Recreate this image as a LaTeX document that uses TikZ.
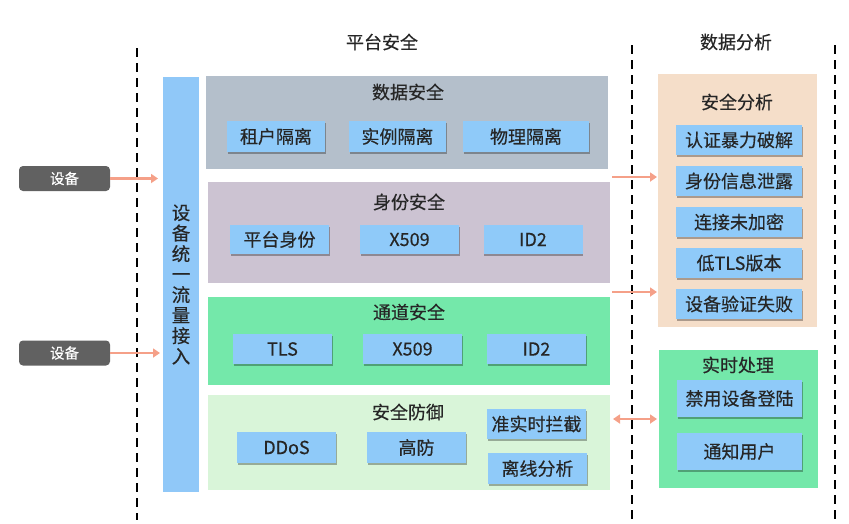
\documentclass[tikz,border=0pt]{standalone}
\usepackage{fontspec}
\setmainfont{Noto Sans CJK SC}[FakeBold=0.4]
\usetikzlibrary{shadows,arrows.meta}
\definecolor{databand}{HTML}{B4BFCB}
\definecolor{idband}{HTML}{CCC3D2}
\definecolor{chanband}{HTML}{74E8AA}
\definecolor{defband}{HTML}{D9F5D9}
\definecolor{subblue}{HTML}{8FCAF9}
\definecolor{barblue}{HTML}{90C8F8}
\definecolor{peach}{HTML}{F5DEC9}
\definecolor{arrowc}{HTML}{F5A088}
\definecolor{devgray}{HTML}{616161}
\definecolor{txt}{HTML}{262626}
\begin{document}
\begin{tikzpicture}[x=1pt,y=-1pt,
  every node/.style={inner sep=0pt, outer sep=0pt},
  band/.style={fill=#1, minimum width=402pt},
  panel/.style={fill=#1, minimum width=159pt},
  title/.style={font=\fontsize{18}{21}\selectfont, text=txt},
  sub/.style={fill=subblue, text=txt, font=\fontsize{18}{21}\selectfont,
    drop shadow={shadow xshift=0.5pt, shadow yshift=-1.5pt, opacity=0.3, fill=black}},
  device/.style={fill=devgray, rounded corners=4pt, text=white, minimum width=91pt, minimum height=25pt,
    font=\fontsize{14.5}{17}\selectfont},
  arr/.style={draw=arrowc, line width=2.2pt, -{Triangle[length=7pt,width=9pt]}},
  darr/.style={draw=arrowc, line width=2.2pt, {Triangle[length=7pt,width=9pt]}-{Triangle[length=7pt,width=9pt]}},
  sep/.style={draw=black, line width=2.5pt, dash pattern=on 9pt off 6pt}
]
\useasboundingbox (0,0) rectangle (849,523);

% separators
\coordinate (s1t) at (137,48); \coordinate (s1b) at (137,520);
\coordinate (s2t) at (632,45); \coordinate (s2b) at (632,520);
\coordinate (s3t) at (835,45); \coordinate (s3b) at (835,520);
\draw[sep] (s1t) -- (s1b);
\draw[sep] (s2t) -- (s2b);
\draw[sep] (s3t) -- (s3b);

% column titles
\node[title] (tplat) at (382,42) {平台安全};
\node[title] (tdata) at (736,42) {数据分析};

% devices
\node[device] (d1) at (64.5,178.5) {设备};
\node[device] (d2) at (64.5,353) {设备};

% access bar
\node[fill=barblue, minimum width=36pt, minimum height=415pt, text=txt,
  font=\fontsize{18.5}{20.5}\selectfont, align=center] (acc) at (181,284.5)
  {设\\备\\统\\一\\流\\量\\接\\入};

\draw[arr, shorten >=5pt] (d1.east) -- (d1.east -| acc.west);
\draw[arr, shorten >=3pt] (d2.east) -- (d2.east -| acc.west);

% bands
\node[band=databand, minimum height=93pt] (bdata) at (407,122.5) {};
\node[band=idband, minimum height=101pt] (bid) at (408.5,232.5) {};
\node[band=chanband, minimum height=88pt] (bchan) at (408.5,341) {};
\node[band=defband, minimum height=95pt] (bdef) at (409,442.5) {};

\node[title] (tdatas) at (408,92) {数据安全};
\node[title] (tids) at (409,202) {身份安全};
\node[title] (tchans) at (409,312) {通道安全};
\node[title] (tdefs) at (408,412) {安全防御};

% data row
\node[sub, minimum width=98pt, minimum height=31pt] (zh) at (276,136.5) {租户隔离};
\node[sub, minimum width=97pt, minimum height=31pt] (sl) at (397.5,136.5) {实例隔离};
\node[sub, minimum width=126pt, minimum height=31pt] (wl) at (526,136.5) {物理隔离};

% identity row
\node[sub, minimum width=99pt, minimum height=29pt] (ptsf) at (279.5,239.5) {平台身份};
\node[sub, minimum width=99pt, minimum height=29pt] (x1) at (409.5,239.5) {X509};
\node[sub, minimum width=99pt, minimum height=29pt] (id1) at (533,239.5) {ID2};

% channel row
\node[sub, minimum width=99pt, minimum height=30pt] (tls) at (282.5,349) {TLS};
\node[sub, minimum width=99pt, minimum height=30pt] (x2) at (412.5,349) {X509};
\node[sub, minimum width=99pt, minimum height=30pt] (id2) at (536.5,349) {ID2};

% defense row
\node[sub, minimum width=99pt, minimum height=31pt] (ddos) at (286.5,447.5) {DDoS};
\node[sub, minimum width=99pt, minimum height=31pt] (gf) at (416.5,447.5) {高防};
\node[sub, minimum width=99pt, minimum height=30pt] (zss) at (536.5,424) {准实时拦截};
\node[sub, minimum width=99pt, minimum height=31pt] (lx) at (537.5,468.5) {离线分析};

% security analysis panel
\node[panel=peach, minimum height=253pt] (sa) at (737.5,200.5) {};
\node[title] (tsa) at (737,102) {安全分析};
\node[sub, minimum width=126pt, minimum height=30pt] (a1) at (739,140) {认证暴力破解};
\node[sub, minimum width=126pt, minimum height=30pt] (a2) at (739,181) {身份信息泄露};
\node[sub, minimum width=126pt, minimum height=30pt] (a3) at (739,222) {连接未加密};
\node[sub, minimum width=126pt, minimum height=30pt] (a4) at (739,263) {低TLS版本};
\node[sub, minimum width=126pt, minimum height=30pt] (a5) at (739,304) {设备验证失败};

% realtime panel
\node[panel=chanband, minimum height=138pt] (rt) at (738.5,419) {};
\node[title] (trt) at (738,365) {实时处理};
\node[sub, minimum width=125pt, minimum height=37pt] (r1) at (739.5,398.5) {禁用设备登陆};
\node[sub, minimum width=125pt, minimum height=37pt] (r2) at (739.5,451.5) {通知用户};

% right arrows
\coordinate (g1) at (612,177);
\coordinate (g2) at (612,292);
\draw[arr, shorten >=1pt] (g1) -- (g1 -| sa.west);
\draw[arr, shorten >=1pt] (g2) -- (g2 -| sa.west);
\coordinate (g3) at (bdef.east |- 0,419);
\draw[darr, shorten <=3pt, shorten >=2pt] (g3) -- (g3 -| rt.west);
\end{tikzpicture}
\end{document}
